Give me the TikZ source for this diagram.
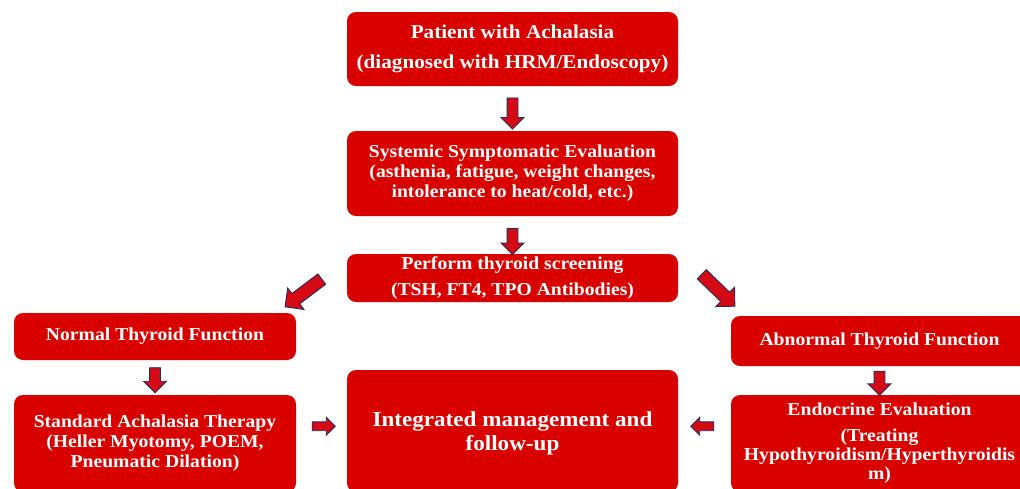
\documentclass[tikz,border=0pt]{standalone}
\usepackage{fontspec}
\setmainfont[FakeStretch=1.08]{Liberation Serif}
\usetikzlibrary{shapes.arrows,calc}
\definecolor{boxred}{RGB}{217,0,0}
\definecolor{arrred}{RGB}{214,10,20}
\definecolor{navy}{RGB}{30,45,90}
\tikzset{
  box/.style={fill=boxred, rounded corners=9pt, text=white, font=\bfseries\fontsize{18.2}{20}\selectfont, align=center, inner sep=0pt},
  barrow/.style={single arrow, draw=navy, fill=arrred, line width=0.9pt, inner xsep=0pt, single arrow head indent=0pt},
  varrow/.style={barrow, minimum height=31pt, inner ysep=5pt, single arrow head extend=6pt},
  darrow/.style={barrow, minimum height=46pt, inner ysep=6pt, single arrow head extend=7pt},
  harrow/.style={barrow, minimum height=23pt, inner ysep=4pt, single arrow head extend=4.5pt},
}
\begin{document}
\begin{tikzpicture}[x=1pt,y=-1pt]
\clip (0,0) rectangle (1020,488);
\fill[white] (0,0) rectangle (1020,488);
\node[box, minimum width=331pt, minimum height=74pt, font=\bfseries\fontsize{19.6}{30}\selectfont] (p) at (512.5,49) {Patient with Achalasia\\(diagnosed with HRM/Endoscopy)};
\node[box, minimum width=331pt, minimum height=85pt] (s) at (512.5,173.5) {Systemic Symptomatic Evaluation\\(asthenia, fatigue, weight changes,\\intolerance to heat/cold, etc.)};
\node[box, minimum width=331pt, minimum height=48pt, font=\bfseries\fontsize{18.2}{26}\selectfont] (t) at (512.5,278) {Perform thyroid screening\\(TSH, FT4, TPO Antibodies)};
\node[box, minimum width=282pt, minimum height=47pt] (n) at (155,336.5) {Normal Thyroid Function};
\node[box, minimum width=282pt, minimum height=97pt] (st) at (155,443.5) {Standard Achalasia Therapy\\(Heller Myotomy, POEM,\\Pneumatic Dilation)};
\node[box, minimum width=331pt, minimum height=122pt, font=\bfseries\fontsize{21.4}{24}\selectfont] (i) at (512.5,431) {Integrated management and\\follow-up\\[-24pt]};
\node[box, minimum width=297pt, minimum height=50pt] (ab) at (879.5,341) {Abnormal Thyroid Function};
\node[box, minimum width=297pt, minimum height=97pt, font=\bfseries\fontsize{18.2}{19}\selectfont] (e) at (879.5,443.5) {Endocrine Evaluation\\[7pt](Treating\\Hypothyroidism/Hyperthyroidis\\m)};
% arrows
\node[varrow, rotate=-90] (a1) at ($(p.south)!0.55!(s.north)$) {};
\node[varrow, rotate=-90, minimum height=26pt] (a2) at ($(s.south)!0.6!(t.north)$) {};
\node[darrow, rotate=-143] (a3) at (306,291) {};
\node[darrow, rotate=-44] (a4) at (716,288) {};
\node[varrow, rotate=-90, minimum height=25pt] (a5) at ($(n.south)!0.5!(st.north)$) {};
\node[varrow, rotate=-90, minimum height=24pt] (a6) at ($(ab.south)!0.5!(e.north)$) {};
\node[harrow] (a7) at ($(st.east)!0.5!(i.west)+(0,-11)$) {};
\node[harrow, rotate=180] (a8) at ($(e.west)!0.5!(i.east)+(0,-11)$) {};
\end{tikzpicture}
\end{document}
